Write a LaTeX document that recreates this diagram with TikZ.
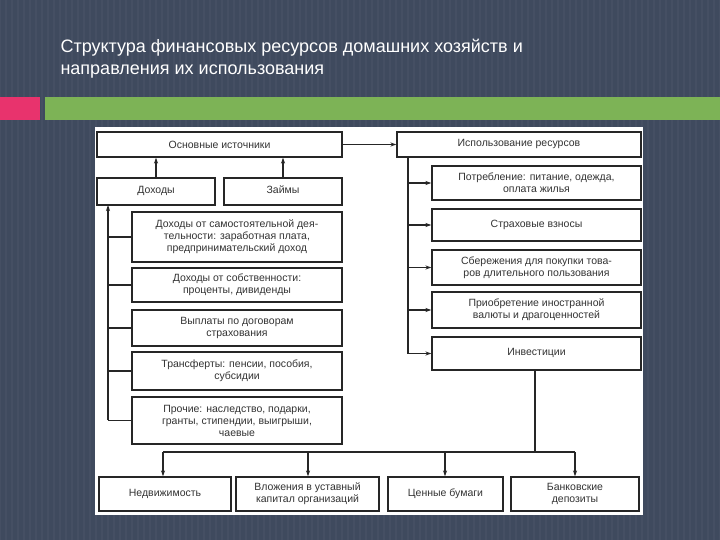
\documentclass[tikz,border=0pt]{standalone}
\usepackage{fontspec}
\setmainfont{Liberation Sans}
\usetikzlibrary{arrows.meta}
\definecolor{bg}{HTML}{3F4A5E}
\definecolor{pinkc}{HTML}{E8336D}
\definecolor{greenc}{HTML}{7DB356}
\begin{document}
\begin{tikzpicture}[x=1pt,y=-1pt,
  bx/.style={draw=black!85,line width=1.1pt,fill=white,align=center,inner sep=1pt,font=\fontsize{10.5}{12}\selectfont,text=black!80},
  ln/.style={line width=1.1pt,draw=black!85},
  ar/.style={ln,-{Stealth[length=6pt,width=4pt]}}]
\useasboundingbox (0,0) rectangle (720,540);
\fill[bg] (0,0) rectangle (720,540);
\foreach \i in {0,6,...,720} \draw[white,opacity=0.03,line width=2pt] (\i,0)--(\i,540);
\node[anchor=west,text=white,font=\fontsize{18}{22}\selectfont,align=left] (title) at (57,59) {Структура финансовых ресурсов домашних хозяйств и\\направления их использования};
\fill[pinkc] (0,97) rectangle (40,120);
\fill[greenc] (45,97) rectangle (720,120);
\fill[white] (95,127) rectangle (643,515);
\newcommand\bxat[6]{\node[bx,minimum width={#4-#2},minimum height={#5-#3}] (#1) at ({(#2+#4)/2},{(#3+#5)/2}) {#6};}
\bxat{os}{97}{132}{342}{157}{Основные источники}
\bxat{doh}{97}{178}{215}{205}{\strut Доходы}
\bxat{zay}{224}{178}{342}{205}{\strut Займы}
\bxat{l1}{132}{212}{342}{262}{Доходы от самостоятельной дея-\\тельности: заработная плата,\\предпринимательский доход}
\bxat{l2}{132}{268}{342}{302}{Доходы от собственности:\\проценты, дивиденды}
\bxat{l3}{132}{310}{342}{346}{Выплаты по договорам\\страхования}
\bxat{l4}{132}{352}{342}{390}{Трансферты: пенсии, пособия,\\субсидии}
\bxat{l5}{132}{397}{342}{444}{Прочие: наследство, подарки,\\гранты, стипендии, выигрыши,\\чаевые}
\bxat{isp}{397}{132}{641}{157}{\strut Использование ресурсов}
\bxat{r1}{432}{166}{641}{200}{Потребление: питание, одежда,\\оплата жилья}
\bxat{r2}{432}{209}{641}{241}{Страховые взносы}
\bxat{r3}{432}{250}{641}{285}{Сбережения для покупки това-\\ров длительного пользования}
\bxat{r4}{432}{292}{641}{328}{Приобретение иностранной\\валюты и драгоценностей}
\bxat{inv}{432}{337}{641}{370}{\strut Инвестиции}
\bxat{b1}{99}{477}{231}{511}{Недвижимость}
\bxat{b2}{236}{477}{379}{511}{Вложения в уставный\\капитал организаций}
\bxat{b3}{388}{477}{503}{511}{Ценные бумаги}
\bxat{b4}{511}{477}{639}{511}{Банковские\\депозиты}
% left side
\draw[ar] (doh.north) -- (doh.north |- os.south);
\draw[ar] (zay.north) -- (zay.north |- os.south);
\coordinate (lb) at (108,420);
\draw[ar] (lb) -- (108,205);
\foreach \b in {l1,l2,l3,l4,l5} \draw[ln] (108,0 |- \b.west) -- (\b.west);
\draw[ar] (os.east) -- (isp.west);
% right side
\coordinate (rt) at (408,157);
\draw[ln] (rt) -- (408,354);
\foreach \b in {r1,r2,r3,r4,inv} \draw[ar] (408,0 |- \b.west) -- (\b.west);
\coordinate (hb) at (535,452);
\draw[ln] (inv.south -| hb) -- (hb);
\draw[ln] (163,452) -- (hb) -- (575,452);
\foreach \b/\x in {b1/163,b2/308,b3/445,b4/575} \draw[ar] (\x,452) -- (\x,0 |- \b.north);
\end{tikzpicture}
\end{document}
